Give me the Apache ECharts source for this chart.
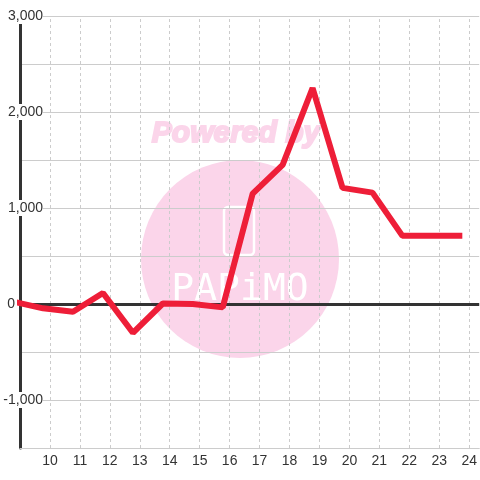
<!DOCTYPE html>
<html><head><meta charset="utf-8">
<script src="https://cdn.jsdelivr.net/npm/echarts@6/dist/echarts.min.js"></script>
<style>html,body{margin:0;padding:0;background:#fff}#c{width:480px;height:480px}</style>
</head><body><div id="c"></div>
<script>
var xValues = [8.77, 9.77, 10.77, 11.77, 12.77, 13.77, 14.77, 15.77, 16.77, 17.77, 18.77, 19.77, 20.77, 21.77, 22.77, 23.77];
var yValues = [25, -45, -80, 115, -300, 5, 0, -35, 1150, 1450, 2250, 1210, 1160, 710, 710, 710];
var xTickLabels = [10, 11, 12, 13, 14, 15, 16, 17, 18, 19, 20, 21, 22, 23, 24];
var yTickLabels = ['-1,000', '0', '1,000', '2,000', '3,000'];

var data = xValues.map(function (x, i) { return [x, yValues[i]]; });
var chart = echarts.init(document.getElementById('c'));
var font = 'Liberation Sans, Arial, sans-serif';
chart.setOption({
  animation: false,
  backgroundColor: '#fff',
  textStyle: { fontFamily: font },
  grid: { left: 20, right: 0, top: 16, bottom: 32 },
  graphic: [
    { type: 'circle', z: -10, shape: { cx: 240, cy: 259, r: 99 }, style: { fill: '#fbd5ea' } },
    { type: 'rect', z: -9, shape: { x: 224, y: 207, width: 30, height: 48, r: 4 }, style: { fill: 'none', stroke: '#fff', lineWidth: 2.5 } },
    { type: 'text', z: -9, style: { x: 240, y: 290, text: 'PAPiMO', fill: '#fff', font: '300 38px DejaVu Sans Mono', align: 'center', verticalAlign: 'middle' } },
    { type: 'text', z: -10, style: { x: 236, y: 134, text: 'Powered by', fill: '#fbd5ea', stroke: '#fbd5ea', lineWidth: 2, font: 'italic bold 30px Liberation Sans', align: 'center', verticalAlign: 'middle' } }
  ],
  xAxis: {
    type: 'value', min: 9, max: 24.3333, interval: 1,
    axisLine: { onZero: false, lineStyle: { color: '#ccc', width: 1 } },
    axisTick: { show: false },
    minorTick: { show: false }, minorSplitLine: { show: false },
    axisLabel: {
      color: '#333', fontSize: 14, margin: 6, showMinLabel: false, showMaxLabel: false,
      formatter: function (v) { return xTickLabels.indexOf(Math.round(v)) >= 0 && Math.abs(v - Math.round(v)) < 1e-6 ? String(Math.round(v)) : ''; }
    },
    splitLine: { show: false }
  },
  yAxis: {
    type: 'value', min: -1500, max: 3000, interval: 500,
    axisLine: { show: true, lineStyle: { color: '#333', width: 3 } },
    axisTick: { show: false },
    splitLine: { show: true, lineStyle: { color: '#ccc', width: 1 } },
    axisLabel: {
      color: '#333', fontSize: 14, margin: -23, align: 'right',
      formatter: function (v) {
        if (v % 1000 !== 0) return '';
        var s = v.toLocaleString('en-US');
        if (yTickLabels.indexOf(s) < 0) return '';
        return v === 0 ? '{z|' + s + '}' : '{a|' + s + '}';
      },
      rich: {
        a: { color: '#333', fontSize: 14, fontFamily: font, backgroundColor: '#fff', padding: [1, 0, 1, 0] },
        z: { color: '#333', fontSize: 14, fontFamily: font, padding: [0, 28, 0, 0] }
      }
    }
  },
  series: [{
    type: 'line', data: [], symbol: 'none', z: 0, silent: true,
    markLine: {
      silent: true, symbol: 'none', z: 0, animation: false,
      label: { show: false },
      lineStyle: { color: '#ccc', width: 1, type: [3, 3] },
      data: xTickLabels.map(function (v) { return { xAxis: v }; })
    }
  }, {
    type: 'line', data: data, symbol: 'none', clip: true, z: 3,
    lineStyle: { color: '#ee1e38', width: 6, cap: 'butt', join: 'bevel' },
    markLine: {
      silent: true, symbol: 'none', z: 1, animation: false,
      label: { show: false },
      lineStyle: { color: '#333', width: 3, type: 'solid' },
      data: [{ yAxis: 0 }]
    }
  }]
});
</script></body></html>
